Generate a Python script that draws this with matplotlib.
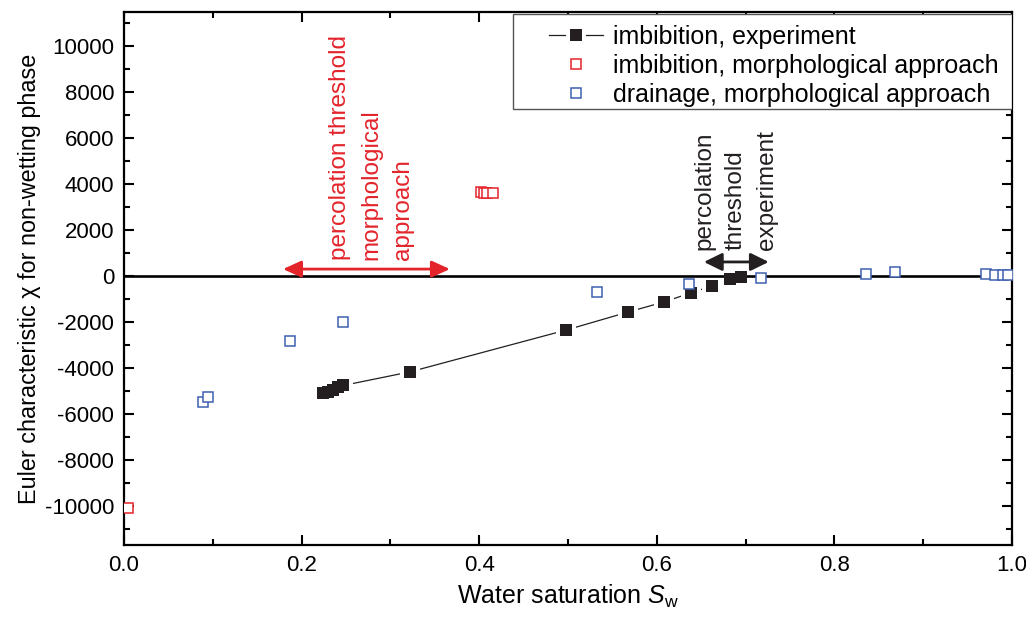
import numpy as np
import matplotlib.pyplot as plt
from matplotlib.patches import Rectangle

plt.rcParams['font.family'] = ['Liberation Sans', 'DejaVu Sans']
plt.rcParams['mathtext.fontset'] = 'custom'
plt.rcParams['mathtext.it'] = 'Liberation Sans:italic'
plt.rcParams['mathtext.rm'] = 'Liberation Sans'
plt.rcParams['axes.unicode_minus'] = False

# imbibition, experiment
exp_sw = [0.224, 0.230, 0.235, 0.241, 0.247, 0.322, 0.498, 0.568, 0.608, 0.638, 0.662, 0.682, 0.695]
exp_chi = [-5090, -5040, -4960, -4850, -4760, -4170, -2350, -1565, -1130, -740, -435, -130, -40]

# imbibition, morphological approach
imb_sw = [0.005, 0.402, 0.405, 0.409, 0.416]
imb_chi = [-10100, 3650, 3610, 3610, 3610]

# drainage, morphological approach
dra_sw = [0.089, 0.095, 0.187, 0.247, 0.533, 0.636, 0.717, 0.836, 0.868, 0.971, 0.981, 0.990, 0.995]
dra_chi = [-5480, -5260, -2830, -2000, -700, -350, -90, 90, 170, 90, 50, 40, 40]

# percolation threshold ranges (x extent)
morph_range = [0.179, 0.367]
exp_range = [0.653, 0.726]

red = '#e3242b'
blue = '#3f5fb0'
black = '#231f20'

fig = plt.figure(figsize=(10.26, 6.18), dpi=100)
ax = fig.add_axes([0.1209, 0.1181, 0.8655, 0.8625])

ax.axhline(0, color='black', lw=1.9, zorder=3)

ln, = ax.plot(exp_sw, exp_chi, '-', color=black, lw=0.9, zorder=2)
wm, = ax.plot(exp_sw, exp_chi, 's', ls='none', color='white', ms=15, mew=0, zorder=2.5)
bm, = ax.plot(exp_sw, exp_chi, 's', ls='none', color=black, ms=8.3, mew=0, zorder=4)
rm, = ax.plot(imb_sw, imb_chi, 's', ls='none', mfc='white', mec=red, ms=6.8, mew=1.1, zorder=5)
bl, = ax.plot(dra_sw, dra_chi, 's', ls='none', mfc='white', mec=blue, ms=6.8, mew=1.1, zorder=5)

# arrows
ax.annotate('', xy=(morph_range[1], 300), xytext=(morph_range[0], 300),
            arrowprops=dict(arrowstyle='<|-|>,head_length=0.55,head_width=0.25',
                            color=red, lw=2, shrinkA=0, shrinkB=0, mutation_scale=20))
ax.annotate('', xy=(exp_range[1], 610), xytext=(exp_range[0], 610),
            arrowprops=dict(arrowstyle='<|-|>,head_length=0.55,head_width=0.27',
                            color=black, lw=2, shrinkA=0, shrinkB=0, mutation_scale=20))

ax.text(0.279, 700, 'percolation threshold\nmorphological\napproach', rotation=90,
        color=red, fontsize=17.5, ha='center', va='bottom', multialignment='left',
        linespacing=1.55)
ax.text(0.689, 1130, 'percolation\nthreshold\nexperiment', rotation=90,
        color=black, fontsize=17.5, ha='center', va='bottom', multialignment='left',
        linespacing=1.55)

ax.set_xlim(0, 1.0)
ax.set_ylim(-11700, 11480)
ax.set_xticks(np.arange(0, 1.01, 0.2))
ax.set_xticks(np.arange(0, 1.01, 0.1), minor=True)
ax.set_yticks(np.arange(-10000, 10001, 2000))
ax.set_yticks(np.arange(-11000, 11001, 1000), minor=True)
ax.set_xticklabels(['0.0', '0.2', '0.4', '0.6', '0.8', '1.0'])
ax.tick_params(which='both', direction='in', top=True, right=True, width=1.5,
               labelsize=16)
ax.tick_params(which='major', length=7, pad=7)
ax.tick_params(which='minor', length=4)
for s in ax.spines.values():
    s.set_linewidth(1.6)

ax.set_xlabel('Water saturation $\\mathit{S}_{\\mathrm{w}}$', fontsize=18, labelpad=5)
ax.set_ylabel('Euler characteristic \u03c7 for non-wetting phase', fontsize=16.8, labelpad=3)

# legend frame
ax.add_patch(Rectangle((0.438, 0.818), 0.562, 0.178, transform=ax.transAxes,
                       facecolor='white', edgecolor='#555555', lw=1.0, zorder=9))
leg = ax.legend([(ln, wm, bm), rm, bl],
                ['imbibition, experiment', 'imbibition, morphological approach',
                 'drainage, morphological approach'],
                loc='upper right', bbox_to_anchor=(0.985, 0.976), borderaxespad=0,
                fontsize=18, handlelength=2.15, handletextpad=0.4, labelspacing=0.2,
                borderpad=0, frameon=False)
leg.set_zorder(10)

fig.savefig('out.png', dpi=100)
